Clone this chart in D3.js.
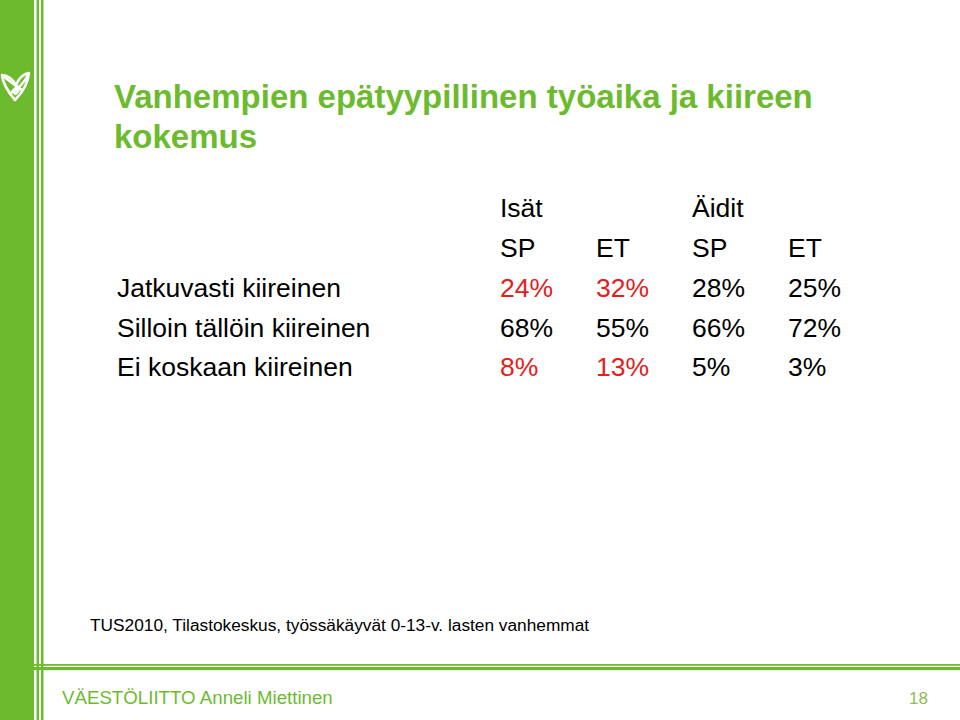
<!DOCTYPE html>
<html><head><meta charset="utf-8">
<script src="https://cdn.jsdelivr.net/npm/d3@7"></script>
<style>html,body{margin:0;padding:0;background:#fff;}svg{display:block;}</style>
</head><body>
<script>
const titleLines = ["Vanhempien epätyypillinen työaika ja kiireen", "kokemus"];
const groups = ["Isät", "Äidit"];
const subgroups = ["SP", "ET", "SP", "ET"];
const columnKeys = ["isat_sp", "isat_et", "aidit_sp", "aidit_et"];
const rowLabels = ["Jatkuvasti kiireinen", "Silloin tällöin kiireinen", "Ei koskaan kiireinen"];
const isatSP = [24, 68, 8];
const isatET = [32, 55, 13];
const aiditSP = [28, 66, 5];
const aiditET = [25, 72, 3];
const highlighted = [[true, true, false, false], [false, false, false, false], [true, true, false, false]];
const sourceNote = "TUS2010, Tilastokeskus, työssäkäyvät 0-13-v. lasten vanhemmat";
const footerText = "VÄESTÖLIITTO Anneli Miettinen";
const pageNumber = "18";

const W = 960, H = 720;
const green = "#6cbb2f";
const svg = d3.select("body").append("svg").attr("width", W).attr("height", H);
svg.append("rect").attr("width", W).attr("height", H).attr("fill", "#fff");

// decorative frame
svg.append("rect").attr("x", 0).attr("y", 0).attr("width", 34).attr("height", H).attr("fill", green);
svg.append("rect").attr("x", 36.5).attr("y", 0).attr("width", 2.5).attr("height", H).attr("fill", green);
svg.append("rect").attr("x", 41).attr("y", 0).attr("width", 2.5).attr("height", H).attr("fill", green);
svg.append("rect").attr("x", 34).attr("y", 664).attr("width", W - 34).attr("height", 1.8).attr("fill", green);
svg.append("rect").attr("x", 34).attr("y", 667).attr("width", W - 34).attr("height", 3.2).attr("fill", green);

// logo
const logo = svg.append("g").attr("transform", "translate(15,87)")
  .attr("fill", "none").attr("stroke", "#fff").attr("stroke-width", 2.6).attr("stroke-linejoin", "round");
logo.append("path").attr("d", "M-13,-12 C-8,-12 -2,-8 1,-2 C4,-9 8,-13 14,-14 C13,-3 7,6 0,13 C-6,6 -12,-2 -13,-12 Z");
logo.append("path").attr("d", "M-13,-12 C-6,-6 3,0 8,4");
logo.append("path").attr("d", "M14,-14 C10,-5 4,2 -6,7");
logo.append("rect").attr("x", -1.5).attr("y", 2).attr("width", 4).attr("height", 4).attr("transform", "rotate(45 0.5 4)");

// title
const font = "Liberation Sans, Arial, sans-serif";
const title = svg.append("text").attr("x", 114).attr("y", 108)
  .attr("font-family", font).attr("font-weight", "bold")
  .attr("font-size", 33).attr("fill", green);
title.selectAll("tspan").data(titleLines).join("tspan")
  .attr("x", 114).attr("dy", (d, i) => i === 0 ? 0 : 40).text(d => d);

// table
const fs = 26.5;
const x = d3.scalePoint().domain(columnKeys).range([500, 788]);
const y = d3.scalePoint().domain(rowLabels).range([297, 376]);
const values = rowLabels.map((r, i) => [isatSP[i], isatET[i], aiditSP[i], aiditET[i]]);

svg.selectAll("text.group").data(groups).join("text").attr("class", "group")
  .attr("x", (d, i) => x(columnKeys[i * 2])).attr("y", 217)
  .attr("font-family", font).attr("font-size", fs).attr("fill", "#000").text(d => d);
svg.selectAll("text.sub").data(subgroups).join("text").attr("class", "sub")
  .attr("x", (d, i) => x(columnKeys[i])).attr("y", 257)
  .attr("font-family", font).attr("font-size", fs).attr("fill", "#000").text(d => d);
svg.selectAll("text.row").data(rowLabels).join("text").attr("class", "row")
  .attr("x", 117).attr("y", d => y(d))
  .attr("font-family", font).attr("font-size", fs).attr("fill", "#000").text(d => d);

rowLabels.forEach((r, i) => {
  svg.selectAll("text.cell" + i).data(values[i]).join("text").attr("class", "cell" + i)
    .attr("x", (d, j) => x(columnKeys[j])).attr("y", y(r))
    .attr("font-family", font).attr("font-size", fs)
    .attr("fill", (d, j) => highlighted[i][j] ? "#e3201b" : "#000")
    .text(d => d + "%");
});

// source
svg.append("text").attr("x", 90).attr("y", 631).attr("font-family", font).attr("font-size", 17.3)
  .attr("fill", "#000").text(sourceNote);

// footer
svg.append("text").attr("x", 62).attr("y", 704).attr("font-family", font).attr("font-size", 18.7)
  .attr("fill", green).text(footerText);
svg.append("text").attr("x", 928).attr("y", 704).attr("text-anchor", "end").attr("font-family", font).attr("font-size", 17)
  .attr("fill", "#8dbb55").text(pageNumber);
</script>
</body></html>
